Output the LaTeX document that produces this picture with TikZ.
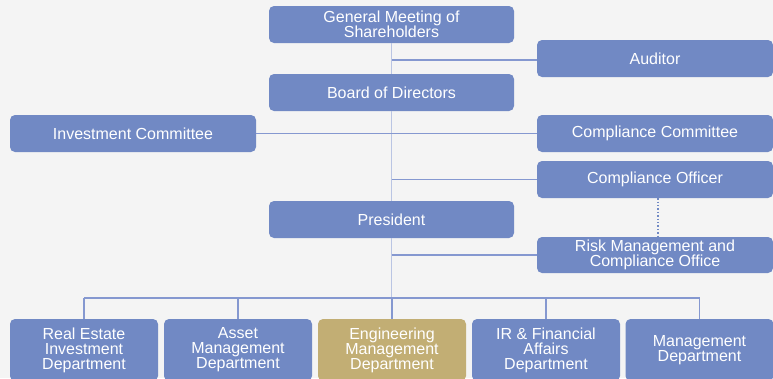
\documentclass[tikz,border=0pt]{standalone}
\usepackage{fontspec}
\setmainfont{Liberation Sans}
\usetikzlibrary{calc}
\definecolor{boxBlue}{HTML}{7189C4}
\definecolor{boxGold}{HTML}{C2AE74}
\definecolor{lineBlue}{HTML}{8598D0}
\definecolor{spineBlue}{HTML}{BAC5E3}
\definecolor{paper}{HTML}{F4F4F4}
\tikzset{
  unit/.style = {fill=#1, rounded corners=5pt, text=white, align=center,
    font=\fontsize{16}{15}\selectfont, inner sep=0pt, minimum height=37pt},
  unit/.default = boxBlue,
  wide/.style = {unit=#1, minimum width=245pt},
  wide/.default = boxBlue,
  side/.style = {unit=#1, minimum width=236pt},
  side/.default = boxBlue,
  dept/.style = {unit=#1, minimum width=148pt, minimum height=62pt},
  dept/.default = boxBlue,
  link/.style = {color=#1, line width=1.1pt},
  spine/.style = {color=#1, line width=1.6pt},
  dotlink/.style = {color=#1, line width=1.4pt, dotted}
}

\begin{document}
\begin{tikzpicture}[x=1pt, y=-1pt]

    % Canvas
    \fill[paper] (0,0) rectangle (773,378);
    \useasboundingbox (0,0) rectangle (773,378);

    % Centre column
    \node[wide] (gms) at (391.5,24.5) {General Meeting of\\Shareholders};
    \node[wide] (board) at (391.5,92.5) {Board of Directors};
    \node[wide] (president) at (391.5,219.5) {President};

    % Side units
    \node[side] (auditor) at (655,58.5) {Auditor};
    \node[unit, minimum width=246pt] (invest) at (133,133.5) {Investment Committee};
    \node[side] (compcomm) at (655,133.5) {Compliance Committee};
    \node[side] (officer) at (655,179.5) {Compliance Officer};
    \node[side, minimum height=36pt] (risk) at (655,255) {Risk Management and\\Compliance Office};

    % Departments
    \node[dept] (realestate) at (84,350) {Real Estate\\Investment\\Department};
    \node[dept] (asset) at (238,350) {Asset\\Management\\Department};
    \node[dept=boxGold] (engineering) at (392,350) {Engineering\\Management\\Department};
    \node[dept] (irfin) at (546,350) {IR \& Financial\\Affairs\\Department};
    \node[dept] (management) at (699.5,350) {Management\\Department};

    \coordinate (bus) at (391.5,298);

    % Main line
    \draw[spine={spineBlue}] (gms.south) -- (board.north);
    \draw[spine={spineBlue}] (board.south) -- (president.north);
    \draw[spine={spineBlue}] (president.south) -- (bus);

    % Branches
    \draw[link={lineBlue}] (gms.south |- 0,60) -- (auditor.west |- 0,60);
    \draw[link={lineBlue}] (invest.east) -- (compcomm.west);
    \draw[link={lineBlue}] (gms.south |- officer.west) -- (officer.west);
    \draw[link={lineBlue}] (gms.south |- risk.west) -- (risk.west);
    \draw[dotlink={boxBlue}] ([xshift=3pt]officer.south) -- ([xshift=3pt]risk.north);

    % Department bus
    \draw[link={lineBlue}] (realestate.north |- bus) -- (management.north |- bus);
    \foreach \d in {realestate, asset, engineering, irfin, management}
      \draw[link={lineBlue}] (\d.north |- bus) -- (\d.north);

\end{tikzpicture}
\end{document}
